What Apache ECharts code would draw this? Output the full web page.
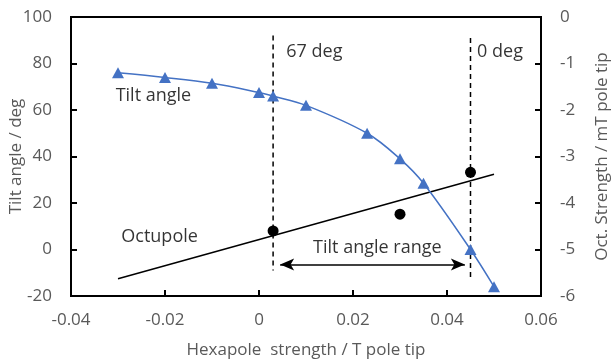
<!DOCTYPE html>
<html>
<head>
<meta charset="utf-8">
<script src="https://cdn.jsdelivr.net/npm/echarts@6/dist/echarts.min.js"></script>
<style>
  html, body { margin: 0; padding: 0; background: #fff; }
  #chart { width: 613px; height: 360px; }
</style>
</head>
<body>
<div id="chart"></div>
<script>
// Tilt angle vs hexapole strength (left axis, deg)
const hexStrength = [-0.03, -0.02, -0.01, 0, 0.003, 0.01, 0.023, 0.03, 0.035, 0.045, 0.05];
const tiltAngle   = [76, 74, 71.5, 67.5, 66, 62, 50, 39, 28.5, 0, -16];

// Octupole strength (right axis, mT pole tip)
const octFitX = [-0.03, 0.05];
const octFitY = [-5.63, -3.38];
const octPointX = [0.003, 0.03, 0.045];
const octPointY = [-4.6, -4.24, -3.34];

// Tilt angle limits marked by dashed verticals (hexapole strength)
const limitX = [0.003, 0.045];
const limitTop = [92, 91];
const limitBottom = [-9, -12];

// Range arrow (tilt angle axis)
const rangeFrom = 0.0045, rangeTo = 0.0438, rangeY = -6.5;

// Text annotations in data coordinates (left axis)
const notes = [
  { text: '67 deg', x: 0.0058, y: 85 },
  { text: '0 deg', x: 0.0464, y: 85 },
  { text: 'Tilt angle', x: -0.0305, y: 66 },
  { text: 'Octupole', x: -0.0293, y: 5.5 },
  { text: 'Tilt angle range', x: 0.0115, y: 0.5 }
];

const xTicks = { min: -0.04, max: 0.06, interval: 0.02 };
const yLeft = { min: -20, max: 100, interval: 20 };
const yRight = { min: -6, max: 0, interval: 1 };

const FONT = 'Open Sans';
const GREY = '#595959';
const BLUE = '#4472C4';
const TICK_FS = 17;

const chart = echarts.init(document.getElementById('chart'));

const dashedSeries = limitX.map((x, i) => ({
  type: 'line',
  data: [[x, limitTop[i]], [x, limitBottom[i]]],
  symbol: 'none',
  lineStyle: { color: '#000', width: 1.5, type: [5, 4] },
  silent: true,
  z: 1
}));

const axisLine = { show: true, onZero: false, lineStyle: { color: '#000', width: 2 } };
const axisTick = { show: true, inside: true, length: 6, lineStyle: { color: '#000', width: 2 } };

chart.setOption({
  animation: false,
  textStyle: { fontFamily: FONT },
  grid: {
    left: 71, right: 72, top: 17, bottom: 64,
    containLabel: false,
    outerBoundsMode: 'none',
    show: true, borderColor: '#000', borderWidth: 2
  },
  xAxis: {
    type: 'value',
    min: xTicks.min, max: xTicks.max, interval: xTicks.interval,
    name: 'Hexapole  strength / T pole tip',
    nameLocation: 'middle', nameGap: 46, nameMoveOverlap: false,
    nameTextStyle: { color: GREY, fontSize: TICK_FS, fontFamily: FONT },
    axisLine, axisTick,
    axisLabel: { color: GREY, fontSize: TICK_FS, margin: 16, fontFamily: FONT,
      formatter: v => String(+v.toFixed(2)) },
    splitLine: { show: false }
  },
  yAxis: [
    {
      type: 'value',
      min: yLeft.min, max: yLeft.max, interval: yLeft.interval,
      name: 'Tilt angle / deg',
      nameLocation: 'middle', nameGap: 46, nameRotate: 90, nameMoveOverlap: false,
      nameTextStyle: { color: GREY, fontSize: TICK_FS, fontFamily: FONT },
      axisLine, axisTick,
      axisLabel: { color: GREY, fontSize: TICK_FS, margin: 19, fontFamily: FONT },
      splitLine: { show: false }
    },
    {
      type: 'value',
      min: yRight.min, max: yRight.max, interval: yRight.interval,
      name: 'Oct. Strength / mT pole tip',
      nameLocation: 'middle', nameGap: 53, nameRotate: 90, nameMoveOverlap: false,
      nameTextStyle: { color: GREY, fontSize: TICK_FS, fontFamily: FONT },
      axisLine, axisTick,
      axisLabel: { color: GREY, fontSize: TICK_FS, margin: 19, fontFamily: FONT },
      splitLine: { show: false }
    }
  ],
  series: [
    ...dashedSeries,
    {
      type: 'line',
      name: 'Octupole fit',
      yAxisIndex: 1,
      data: octFitX.map((x, i) => [x, octFitY[i]]),
      symbol: 'none',
      lineStyle: { color: '#000', width: 1.5 },
      z: 2
    },
    {
      type: 'scatter',
      name: 'Octupole',
      yAxisIndex: 1,
      data: octPointX.map((x, i) => [x, octPointY[i]]),
      symbol: 'circle',
      symbolSize: 11,
      itemStyle: { color: '#000', opacity: 1 },
      z: 3
    },
    {
      type: 'line',
      name: 'Tilt angle',
      data: hexStrength.map((x, i) => [x, tiltAngle[i]]),
      smooth: 0.35,
      symbol: 'triangle',
      symbolSize: [12, 11],
      itemStyle: { color: BLUE },
      lineStyle: { color: BLUE, width: 1.5 },
      z: 4,
      markLine: {
        silent: true,
        symbol: ['arrow', 'arrow'],
        symbolSize: [9, 14],
        label: { show: false },
        lineStyle: { color: '#000', width: 1.5, type: 'solid' },
        data: [[{ coord: [rangeFrom, rangeY] }, { coord: [rangeTo, rangeY] }]]
      }
    },
    {
      type: 'scatter',
      name: 'notes',
      data: notes.map(n => ({ value: [n.x, n.y], name: n.text })),
      symbolSize: 0,
      silent: true,
      label: {
        show: true,
        position: 'right',
        distance: 0,
        formatter: p => p.name,
        color: '#000',
        fontSize: 18,
        fontFamily: FONT
      },
      z: 5
    }
  ]
});
</script>
</body>
</html>
